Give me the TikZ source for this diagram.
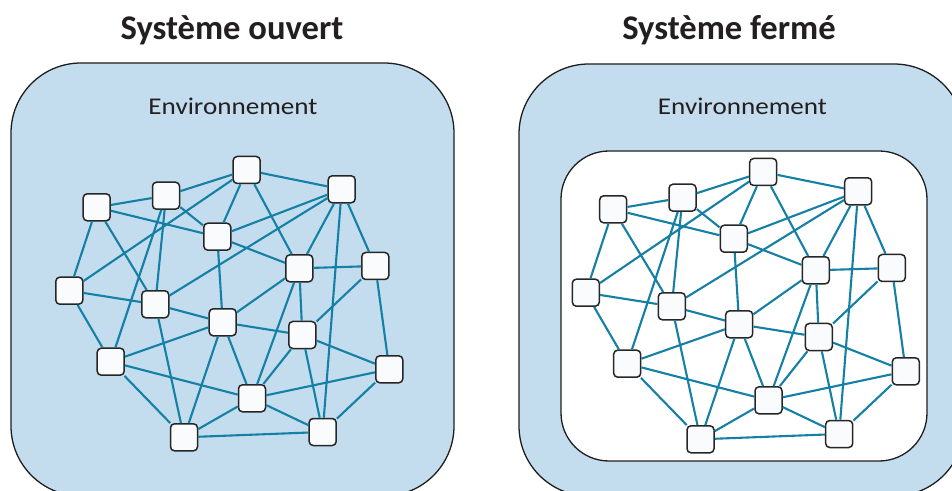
\documentclass[tikz,border=0pt]{standalone}
\usepackage{fontspec}
\setmainfont{Carlito}
\newfontfamily\envfont[FakeStretch=1.13]{Carlito}
\definecolor{envblue}{HTML}{C3DCEE}
\definecolor{edgeblue}{HTML}{1580A5}
\definecolor{nodefill}{HTML}{F9FBFD}
\definecolor{nodeline}{HTML}{262626}
\definecolor{boxline}{HTML}{1E1E1E}
\definecolor{textdark}{HTML}{231F20}
\tikzset{
  netnode/.style={draw=nodeline, fill=nodefill, line width=1.5bp, rounded corners=4bp, minimum size=27bp, inner sep=0pt},
  link/.style={draw=edgeblue, line width=2.1bp},
  envbox/.style={draw=boxline, fill=envblue, line width=1.3bp, rounded corners=70bp},
  sysbox/.style={draw=boxline, fill=white, line width=1.3bp, rounded corners=48bp},
  titlelabel/.style={font=\fontsize{34.6bp}{40bp}\selectfont\bfseries, text=textdark, anchor=base, inner sep=0pt},
  envlabel/.style={font=\envfont\fontsize{24bp}{28bp}\selectfont, text=textdark, anchor=base, inner sep=0pt},
}
\newcommand\netnodes[1]{%
  \foreach \n/\x/\y in {A/96.7/207.3, B/166/195.7, C/246.7/170, D/341.7/189.3,
      E/217.3/236.7, F/299.3/268.3, G/375.3/266, H/69.3/290.7, I/155.3/304.3,
      J/222.7/322.3, K/302.3/335, L/110.7/361.7, M/389.3/369.3, N/252/398.3,
      O/184/437.3, P/322.7/432}
    {\node[netnode] (#1\n) at (\x,\y) {};}%
}
\newcommand\netedges[1]{%
  \foreach \a/\b in {A/B,A/E,A/H,A/I,B/C,B/E,B/I,B/L,C/E,C/H,C/D,C/F,D/E,D/I,D/F,
      D/G,D/P,E/F,E/J,F/G,F/J,F/K,F/N,G/K,G/M,H/I,H/L,I/J,I/O,J/K,J/L,J/N,J/O,
      K/M,K/N,K/P,L/N,L/O,M/N,M/P,N/O,N/P,O/P}
    {\draw[link] (#1\a) -- (#1\b);}%
}
\begin{document}
\begin{tikzpicture}[x=1bp, y=-1bp]
  \clip (0,0) rectangle (952,491);
  \fill[white] (0,0) rectangle (952,491);
  % titles
  \node[titlelabel] (t1) at (232,40) {Système ouvert};
  \node[titlelabel] (t2) at (729,40) {Système fermé};
  % left: open system
  \path[envbox] (11,63) rectangle (454,496);
  \node[envlabel] (env1) at (233,115) {Environnement};
  \netnodes{l}
  \netedges{l}
  % right: closed system
  \path[envbox] (519,64) rectangle (964,496);
  \node[envlabel] (env2) at (742.5,115) {Environnement};
  \path[sysbox] (561,151) rectangle (927,461);
  \begin{scope}[shift={(516.5,2)}]
    \netnodes{r}
    \netedges{r}
  \end{scope}
\end{tikzpicture}
\end{document}
